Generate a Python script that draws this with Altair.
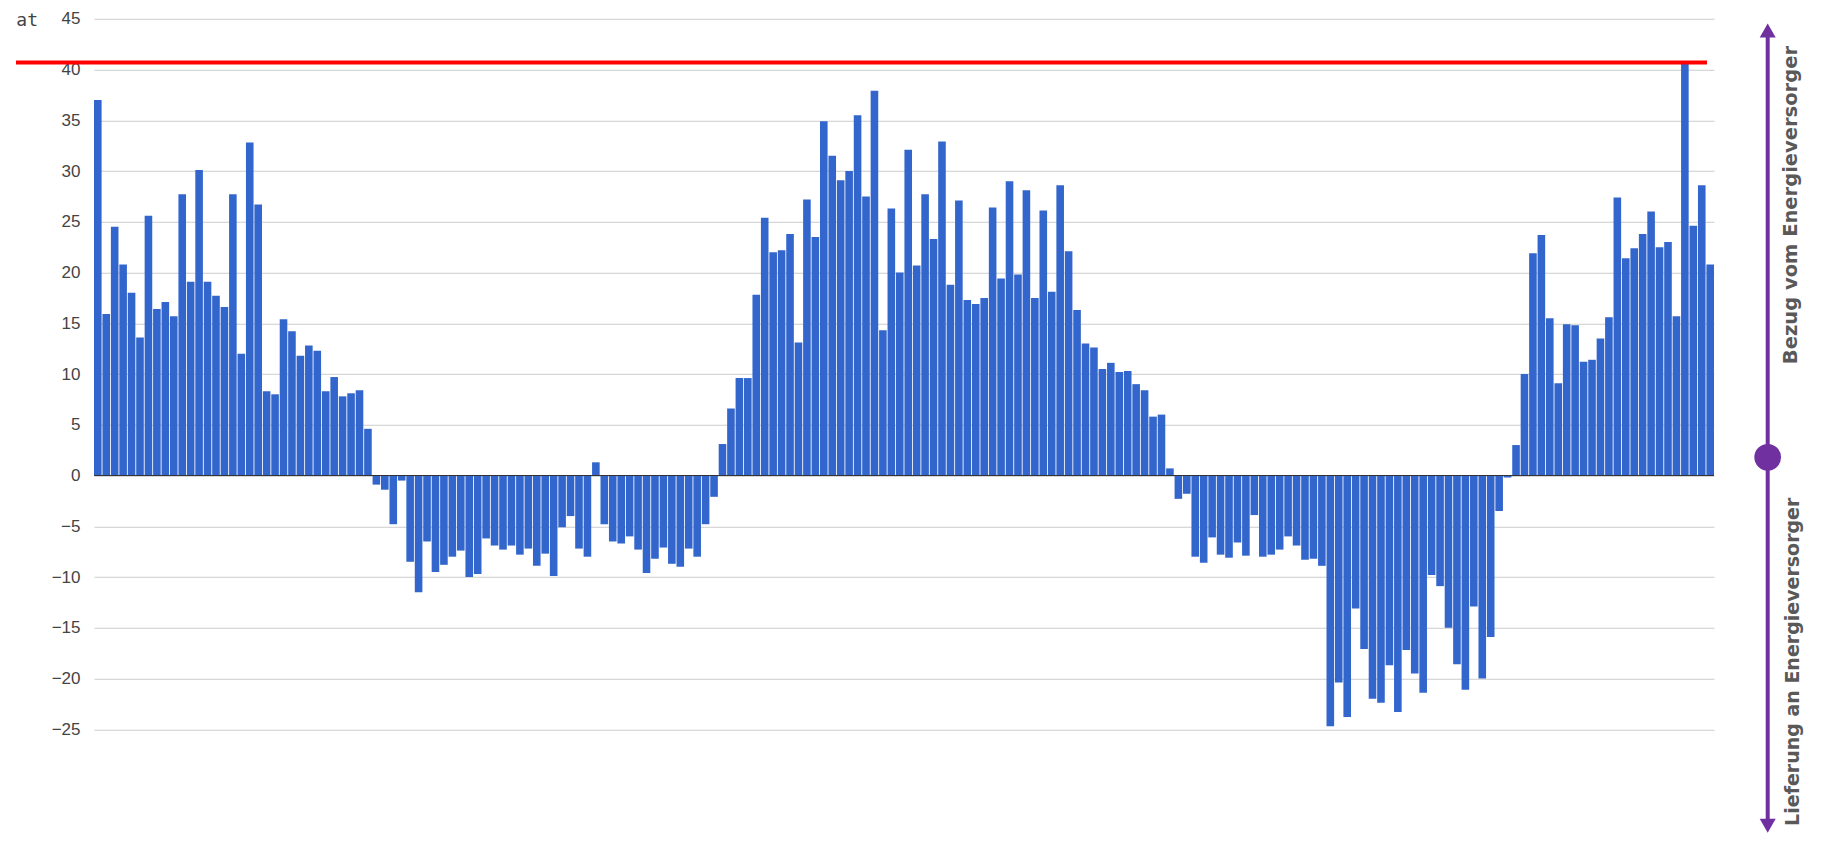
import altair as alt
import pandas as pd

# bar values (kWh), left to right
values = [
    37.0, 15.9, 24.5, 20.8, 18.0, 13.6, 25.6, 16.4, 17.1, 15.7,
    27.7, 19.1, 30.1, 19.1, 17.7, 16.6, 27.7, 12.0, 32.8, 26.7,
    8.3, 8.0, 15.4, 14.2, 11.8, 12.8, 12.3, 8.3, 9.7, 7.8,
    8.1, 8.4, 4.6, -0.9, -1.4, -4.8, -0.5, -8.5, -11.5, -6.5,
    -9.5, -8.8, -8.0, -7.4, -10.0, -9.7, -6.2, -6.9, -7.3, -6.9,
    -7.8, -7.2, -8.9, -7.7, -9.9, -5.1, -4.0, -7.2, -8.0, 1.3,
    -4.8, -6.5, -6.7, -6.0, -7.3, -9.6, -8.2, -7.1, -8.7, -9.0,
    -7.2, -8.0, -4.8, -2.1, 3.1, 6.6, 9.6, 9.6, 17.8, 25.4,
    22.0, 22.2, 23.8, 13.1, 27.2, 23.5, 34.9, 31.5, 29.1, 30.0,
    35.5, 27.5, 37.9, 14.3, 26.3, 20.0, 32.1, 20.7, 27.7, 23.3,
    32.9, 18.8, 27.1, 17.3, 16.9, 17.5, 26.4, 19.4, 29.0, 19.8,
    28.1, 17.5, 26.1, 18.1, 28.6, 22.1, 16.3, 13.0, 12.6, 10.5,
    11.1, 10.2, 10.3, 9.0, 8.4, 5.8, 6.0, 0.7, -2.3, -1.8,
    -8.0, -8.6, -6.1, -7.8, -8.1, -6.6, -7.9, -3.9, -8.0, -7.8,
    -7.3, -6.0, -6.9, -8.3, -8.2, -8.9, -24.7, -20.4, -23.8, -13.1,
    -17.1, -22.0, -22.4, -18.7, -23.3, -17.2, -19.5, -21.4, -9.8, -10.9,
    -15.0, -18.6, -21.1, -12.9, -20.0, -15.9, -3.5, -0.2, 3.0, 10.0,
    21.9, 23.7, 15.5, 9.1, 14.9, 14.8, 11.2, 11.4, 13.5, 15.6,
    27.4, 21.4, 22.4, 23.8, 26.0, 22.5, 23.0, 15.7, 40.7, 24.6,
    28.6, 20.8,
]
index = list(range(1, len(values) + 1))

y_ticks = [-25 + 2.5 * k for k in range(29)]
label_up = ["Bezug vom Energieversorger"]
label_down = ["Lieferung an Energieversorger"]
corner_text = ["at"]

bars_df = pd.DataFrame({"i": index, "v": values})
one = pd.DataFrame({"k": [0]})

W, H = 1620, 710.5
PURPLE = "#7030a0"
AX = 1673.7

yscale = alt.Scale(domain=[-25, 45], nice=False, zero=False)

bars = alt.Chart(bars_df).mark_bar(color="#3366cc").encode(
    x=alt.X("i:O", axis=None, scale=alt.Scale(paddingInner=0.1, paddingOuter=0)),
    y=alt.Y(
        "v:Q",
        scale=yscale,
        axis=alt.Axis(
            title=None,
            values=y_ticks,
            ticks=False,
            domain=False,
            labelPadding=14,
            labelFont="Liberation Sans Narrow, Liberation Sans, Arial, sans-serif",
            labelFontSize=17,
            labelColor="#444444",
            labelExpr="datum.value % 5 === 0 ? datum.label : ''",
            gridColor={
                "condition": {"test": "datum.value % 5 !== 0", "value": "#ececec"},
                "value": "#cccccc",
            },
            gridWidth=1,
        ),
    ),
)

zero = alt.Chart(one).mark_rule(color="#333333", strokeWidth=1).encode(y=alt.datum(0))

red = alt.Chart(bars_df).mark_rule(color="#ff0000", strokeWidth=4).encode(
    y="max(v):Q", x=alt.value(-78), x2=alt.value(1613)
)

pline = alt.Chart(one).mark_rule(color=PURPLE, strokeWidth=4).encode(
    x=alt.value(AX), y=alt.value(12), y2=alt.value(806)
)
tri_up = alt.Chart(one).mark_point(
    shape="triangle-up", filled=True, size=256, color=PURPLE, opacity=1
).encode(x=alt.value(AX), y=alt.value(11.75))
tri_dn = alt.Chart(one).mark_point(
    shape="triangle-down", filled=True, size=256, color=PURPLE, opacity=1
).encode(x=alt.value(AX), y=alt.value(807))
dot = alt.Chart(one).mark_point(
    shape="circle", filled=True, size=713, color=PURPLE, opacity=1
).encode(x=alt.value(AX), y=alt.value(438.5))

txt_style = dict(
    angle=270, font="DejaVu Sans", fontWeight="bold", fontSize=19.5,
    color="#595959", align="center", baseline="middle",
)
t_up = alt.Chart(pd.DataFrame({"t": label_up})).mark_text(**txt_style).encode(
    x=alt.value(1697), y=alt.value(186.3), text="t:N"
)
t_dn = alt.Chart(pd.DataFrame({"t": label_down})).mark_text(
    **{**txt_style, "fontSize": 19}
).encode(x=alt.value(1699), y=alt.value(643), text="t:N")
corner = alt.Chart(pd.DataFrame({"t": corner_text})).mark_text(
    font="DejaVu Sans Mono", fontSize=18, color="#444444", align="right",
    baseline="alphabetic",
).encode(x=alt.value(-56), y=alt.value(7), text="t:N")

chart = alt.layer(bars, zero, red, pline, tri_up, tri_dn, dot, t_up, t_dn, corner).properties(
    width=W,
    height=H,
    padding={"left": 86, "top": 10.75, "right": 105, "bottom": 104.75},
    autosize=alt.AutoSizeParams(type="none"),
).configure_view(strokeWidth=0)

chart.save("out.html", embed_options={"renderer": "svg", "actions": False})
